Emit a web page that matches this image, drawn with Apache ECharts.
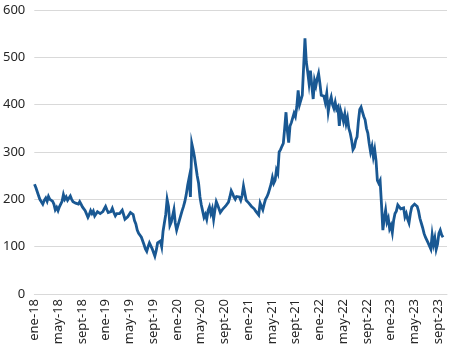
<!DOCTYPE html>
<html><head><meta charset="utf-8">
<script src="https://cdn.jsdelivr.net/npm/echarts@6/dist/echarts.min.js"></script>
<style>html,body{margin:0;padding:0;background:#fff}#c{width:449px;height:354px}</style>
</head><body><div id="c"></div>
<script>
// Weekly observations starting 2018-01-02
const startDate = '2018-01-02';
const weeklyValues = [
232,225,222,208,200,195,190,198,203,196,206,200,204,196,190,178,183,176,184,182,
196,210,200,205,198,202,207,200,195,198,192,196,190,195,190,184,180,176,172,162,
168,176,170,175,165,168,174,172,170,166,174,180,185,178,172,176,174,181,172,165,
170,166,170,174,177,168,158,160,163,166,172,174,168,155,148,135,128,126,120,112,
104,95,90,100,108,104,96,100,80,92,108,104,112,100,132,150,168,200,185,145,
152,165,178,150,135,145,155,165,175,184,195,210,230,245,205,318,305,290,270,250,
234,205,188,175,162,168,158,176,184,170,180,158,178,195,188,180,172,170,180,176,
186,190,194,205,218,212,205,200,206,210,205,198,208,228,226,198,196,192,188,185,
184,180,175,172,167,192,185,178,190,200,205,212,222,232,246,234,240,262,255,300,
305,312,318,350,384,345,320,355,362,372,382,375,395,430,400,404,420,480,540,490,
470,445,472,440,412,451,440,455,466,445,420,416,418,405,424,385,405,416,400,392,
405,390,395,355,388,378,365,380,360,372,350,340,325,305,310,325,332,365,390,395,
385,375,368,350,340,318,300,312,290,305,282,240,234,240,190,135,160,177,152,160,
138,145,130,156,170,175,188,192,180,177,182,163,170,158,150,170,184,180,190,192,
185,175,160,150,140,128,120,124,108,112,95,125,105,118,94,105,128,135,125,120
];
const tickLabels = ['ene-18','may-18','sept-18','ene-19','may-19','sept-19','ene-20','may-20','sept-20','ene-21','may-21','sept-21','ene-22','may-22','sept-22','ene-23','may-23','sept-23'];

function monthPos(d){
  const y=d.getUTCFullYear(), m=d.getUTCMonth(), day=d.getUTCDate();
  const dim=new Date(Date.UTC(y,m+1,0)).getUTCDate();
  return (y-2018)*12+m+(day-1)/dim;
}
const t0=new Date(startDate+'T00:00:00Z').getTime();
const seriesData=weeklyValues.map((v,i)=>[monthPos(new Date(t0+i*7*86400000)),v]);

const chart=echarts.init(document.getElementById('c'));
chart.setOption({
  animation:false,
  grid:{left:32,right:2,top:10,bottom:60,containLabel:false},
  xAxis:{type:'value',min:0,max:69.5,interval:4,
    axisLine:{show:true,lineStyle:{color:'#d9d9d9',width:1}},
    axisTick:{show:false},splitLine:{show:false},
    axisLabel:{rotate:90,margin:5,color:'#262626',fontFamily:'Noto Sans',fontSize:13,showMaxLabel:false,
      formatter:function(v){const k=Math.round(v/4);return (Math.abs(v-k*4)<1e-6&&tickLabels[k])?tickLabels[k]:'';}}
  },
  yAxis:{type:'value',min:0,max:600,interval:100,
    axisLine:{show:false},axisTick:{show:false},
    splitLine:{lineStyle:{color:'#d9d9d9',width:1}},
    axisLabel:{margin:9,color:'#262626',fontFamily:'Noto Sans',fontSize:13}
  },
  series:[{type:'line',data:seriesData,showSymbol:false,symbol:'none',
    lineStyle:{color:'#195893',width:2.8,join:'miter'},z:3}]
});
</script></body></html>
